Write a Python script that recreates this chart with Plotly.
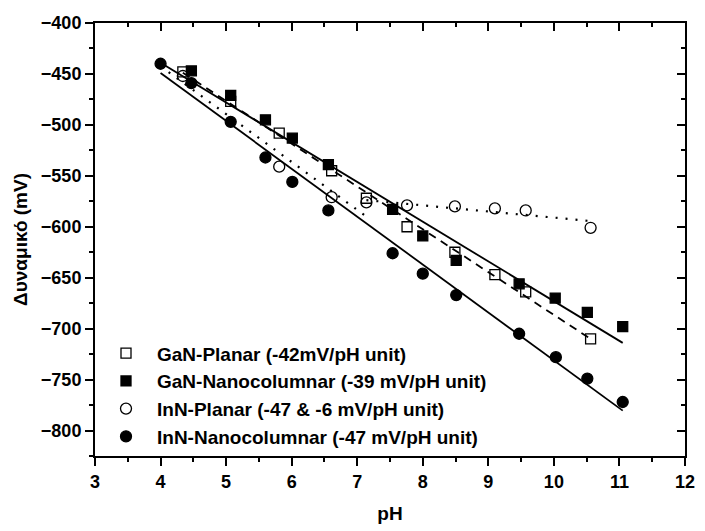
import numpy as np
import plotly.graph_objects as go

# pH values and measured potentials (mV)
gan_planar_ph = [4.34, 5.07, 5.81, 6.61, 7.14, 7.76, 8.49, 9.10, 9.57, 10.56]
gan_planar_mv = [-448, -477, -508, -545, -572, -600, -625, -647, -664, -710]

gan_nano_ph = [4.47, 5.07, 5.60, 6.01, 6.56, 7.54, 8.00, 8.51, 9.47, 10.02, 10.51, 11.05]
gan_nano_mv = [-447, -471, -495, -513, -539, -583, -609, -633, -656, -670, -684, -698]

inn_planar_ph = [4.34, 5.81, 6.61, 7.14, 7.76, 8.49, 9.10, 9.57, 10.56]
inn_planar_mv = [-452, -541, -571, -576, -579, -580, -582, -584, -601]

inn_nano_ph = [4.00, 4.47, 5.07, 5.60, 6.01, 6.56, 7.54, 8.00, 8.51, 9.47, 10.03, 10.51, 11.05]
inn_nano_mv = [-440, -459, -497, -532, -556, -584, -626, -646, -667, -705, -728, -749, -772]

legend_names = [
    "GaN-Planar (-42mV/pH unit)",
    "GaN-Nanocolumnar (-39 mV/pH unit)",
    "InN-Planar (-47 & -6 mV/pH unit)",
    "InN-Nanocolumnar (-47 mV/pH unit)",
]

# Linear fits: slope (mV/pH), intercept (mV), pH extent
gan_planar_fit = dict(slope=-42, intercept=-266.5, ph=[4.34, 10.56])
gan_nano_fit = dict(slope=-39, intercept=-283.0, ph=[4.00, 11.05])
inn_planar_fit_a = dict(slope=-47, intercept=-254.4, ph=[4.00, 7.14])
inn_planar_fit_b = dict(slope=-6, intercept=-531.0, ph=[7.14, 10.56])
inn_nano_fit = dict(slope=-47, intercept=-261.1, ph=[4.00, 11.05])

x_range = [3, 12]
y_range = [-825, -400]

FONT = "Arial, Liberation Sans, sans-serif"


def fit_line(fit):
    xs = np.array(fit["ph"], dtype=float)
    return xs, fit["slope"] * xs + fit["intercept"]


fig = go.Figure()

line_specs = [
    (gan_nano_fit, "solid", 1.8),
    (inn_nano_fit, "solid", 1.8),
    (gan_planar_fit, "8px,6px", 1.8),
    (inn_planar_fit_a, "2px,8px", 2.2),
    (inn_planar_fit_b, "2px,8px", 2.2),
]
for fit, dash, width in line_specs:
    xs, ys = fit_line(fit)
    fig.add_trace(go.Scatter(x=xs, y=ys, mode="lines",
                             line=dict(color="black", width=width, dash=dash),
                             showlegend=False, hoverinfo="skip"))

series = [
    (gan_planar_ph, gan_planar_mv, "square-open", 10),
    (gan_nano_ph, gan_nano_mv, "square", 10),
    (inn_planar_ph, inn_planar_mv, "circle-open", 11),
    (inn_nano_ph, inn_nano_mv, "circle", 11),
]
for (xs, ys, sym, size), name in zip(series, legend_names):
    fig.add_trace(go.Scatter(x=xs, y=ys, mode="markers", name=name,
                             marker=dict(symbol=sym, size=size, color="black",
                                         line=dict(color="black", width=1.3))))

# anchor trace for the mirrored top/right axes
fig.add_trace(go.Scatter(x=[x_range[0]], y=[y_range[0]], xaxis="x2", yaxis="y2",
                         mode="markers", marker=dict(opacity=0), showlegend=False,
                         hoverinfo="skip"))

tickfont = dict(family=FONT, size=18, color="black", weight="bold")
titlefont = dict(family=FONT, size=19, color="black", weight="bold")

common = dict(showgrid=False, zeroline=False, showline=True, linecolor="black",
              linewidth=2, tickcolor="black", tickwidth=2)

fig.update_layout(
    width=705, height=531,
    margin=dict(l=95, r=10, t=23, b=69),
    paper_bgcolor="white", plot_bgcolor="white",
    xaxis=dict(range=x_range, dtick=1, tick0=3, ticks="outside", ticklen=8,
               ticklabeloverflow="allow",
               minor=dict(dtick=0.5, ticks="outside", ticklen=4, tickwidth=2, tickcolor="black"),
               tickfont=tickfont, title=dict(text="pH", font=titlefont, standoff=16),
               **common),
    yaxis=dict(range=y_range, dtick=50, tick0=-400, ticks="outside", ticklen=8,
               ticklabeloverflow="allow",
               minor=dict(dtick=25, ticks="outside", ticklen=4, tickwidth=2, tickcolor="black"),
               tickfont=tickfont, title=dict(text="Δυναμικό (mV)", font=titlefont, standoff=8),
               **common),
    xaxis2=dict(range=x_range, dtick=1, tick0=3, overlaying="x", side="top", anchor="y2",
                ticks="inside", ticklen=8, showticklabels=False,
                minor=dict(dtick=0.5, ticks="inside", ticklen=4, tickwidth=2, tickcolor="black"),
                **common),
    yaxis2=dict(range=y_range, dtick=50, tick0=-400, overlaying="y", side="right", anchor="x2",
                ticks="inside", ticklen=8, showticklabels=False,
                minor=dict(dtick=25, ticks="inside", ticklen=4, tickwidth=2, tickcolor="black"),
                **common),
    legend=dict(x=0, y=0.281, xanchor="left", yanchor="top", bgcolor="rgba(0,0,0,0)",
                itemwidth=52, font=dict(family=FONT, size=19, color="black", weight="bold"),
                traceorder="normal"),
)

fig.write_html("out.html")
